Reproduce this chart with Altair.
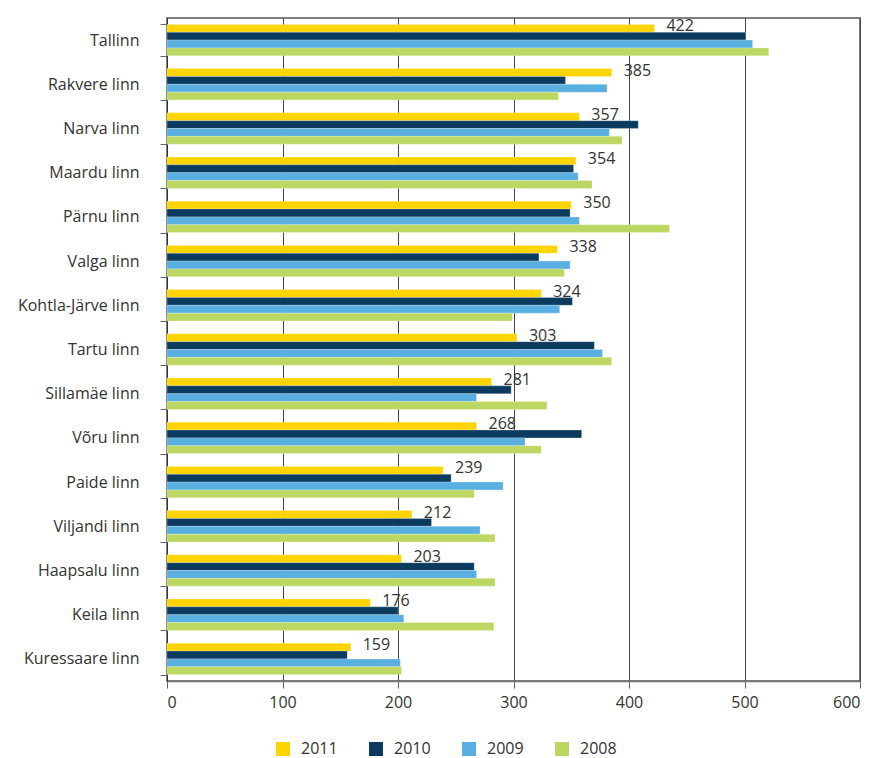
import altair as alt
import pandas as pd

cities = ["Tallinn", "Rakvere linn", "Narva linn", "Maardu linn", "Pärnu linn",
          "Valga linn", "Kohtla-Järve linn", "Tartu linn", "Sillamäe linn", "Võru linn",
          "Paide linn", "Viljandi linn", "Haapsalu linn", "Keila linn", "Kuressaare linn"]
years = ["2011", "2010", "2009", "2008"]
v2011 = [422, 385, 357, 354, 350, 338, 324, 303, 281, 268, 239, 212, 203, 176, 159]
v2010 = [501, 345, 408, 352, 349, 322, 351, 370, 298, 359, 246, 229, 266, 200, 156]
v2009 = [507, 381, 383, 356, 357, 349, 340, 377, 268, 310, 291, 271, 268, 205, 202]
v2008 = [521, 339, 394, 368, 435, 344, 299, 385, 329, 324, 266, 284, 284, 283, 203]
colors = ["#FFD400", "#0B3C5F", "#5AAFE1", "#BDD862"]

series = {"2011": v2011, "2010": v2010, "2009": v2009, "2008": v2008}
rows = []
for yr in years:
    for c, v in zip(cities, series[yr]):
        rows.append({"city": c, "year": yr, "value": v})
df = pd.DataFrame(rows)

FONT = "Open Sans"
FS = 16

y_enc = alt.Y("city:N", sort=cities, title=None,
              scale=alt.Scale(paddingInner=0.29, paddingOuter=0.145),
              axis=alt.Axis(tickBand="extent", ticks=True, tickSize=7, tickColor="#666666",
                            domainColor="#333333", labelPadding=21, labelFontSize=FS,
                            labelFont=FONT, labelColor="#333333", grid=False))
yoff = alt.YOffset("year:N", sort=years, scale=alt.Scale(domain=years, paddingInner=0, paddingOuter=0))
x_enc = alt.X("value:Q", title=None,
              scale=alt.Scale(domain=[0, 600], nice=False),
              axis=alt.Axis(values=[0, 100, 200, 300, 400, 500, 600], tickSize=7,
                            tickColor="#666666", domainColor="#777777", domainWidth=1.5,
                            gridColor="#444444", gridWidth=1, labelFontSize=FS, labelFont=FONT,
                            labelColor="#333333", labelPadding=6))

bars = alt.Chart(df).mark_bar(stroke="#ffffff", strokeWidth=0.4, strokeOpacity=0.6).encode(
    y=y_enc, yOffset=yoff, x=x_enc,
    color=alt.Color("year:N", sort=years,
                    scale=alt.Scale(domain=years, range=colors),
                    legend=alt.Legend(title=None, orient="none", direction="horizontal",
                                      legendX=108, legendY=723, symbolType="square",
                                      symbolSize=196, symbolStrokeWidth=0,
                                      labelFontSize=FS, labelFont=FONT, labelColor="#333333",
                                      labelLimit=200, columnPadding=30, labelOffset=10))
)

labels = alt.Chart(df[df["year"] == "2011"]).mark_text(
    align="left", baseline="alphabetic", dx=12, dy=3, fontSize=FS, font=FONT, color="#333333"
).encode(y=alt.Y("city:N", sort=cities), yOffset=yoff, x="value:Q", text="value:Q")

chart = alt.layer(bars, labels).properties(
    width=693, height=663, padding={"left": 9, "top": 2, "right": 5, "bottom": 44}
).configure_view(stroke="#555555", strokeWidth=1.5).configure_axis(gridColor="#444444")

chart.save("out.html", embed_options={"renderer": "svg", "actions": False})
